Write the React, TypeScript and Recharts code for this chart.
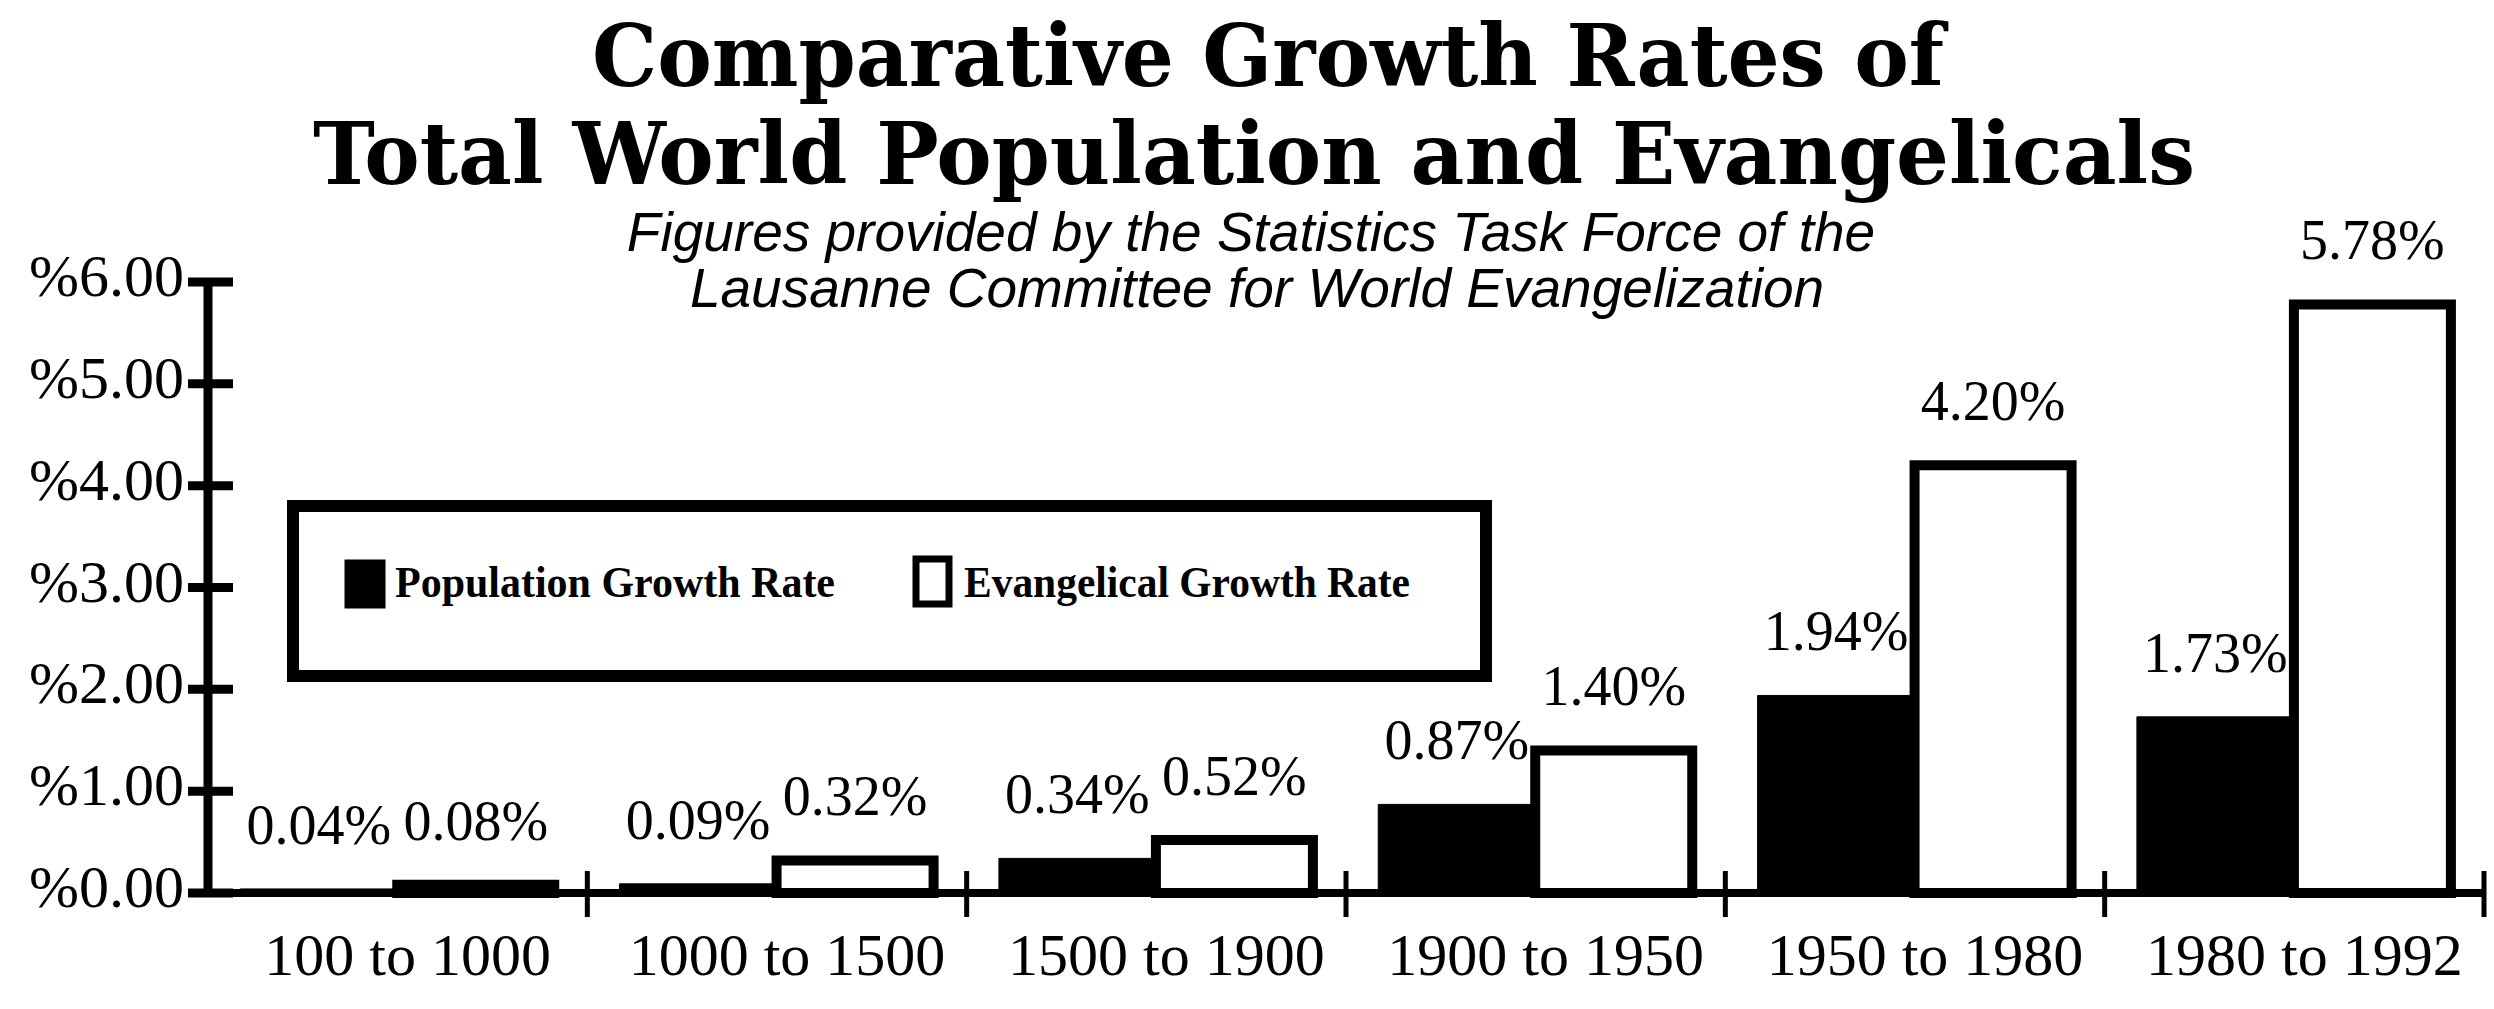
import React from 'react';
import { BarChart, Bar, XAxis, YAxis, LabelList, Legend } from 'recharts';

// Growth rates (% per year) for each period
const periods = ['100 to 1000', '1000 to 1500', '1500 to 1900', '1900 to 1950', '1950 to 1980', '1980 to 1992'];
const populationGrowth = [0.04, 0.09, 0.34, 0.87, 1.94, 1.73];
const evangelicalGrowth = [0.08, 0.32, 0.52, 1.4, 4.2, 5.78];
const yTicks = [0, 1, 2, 3, 4, 5, 6];
const seriesNames = ['Population Growth Rate', 'Evangelical Growth Rate'];

const titleLines = ['Comparative Growth Rates of', 'Total World Population and Evangelicals'];
const subtitleLines = [
  'Figures provided by the Statistics Task Force of the',
  'Lausanne Committee for World Evangelization',
];

const data = periods.map((period, i) => ({
  period,
  population: populationGrowth[i],
  evangelical: evangelicalGrowth[i],
}));

const W = 2494;
const H = 1009;
const MARGIN = { top: 282, right: 10, bottom: 0, left: 0 };
const Y_AXIS_W = 208;
const X_AXIS_H = 116;
const PLOT_W = W - MARGIN.left - MARGIN.right - Y_AXIS_W;
const BAND = PLOT_W / periods.length;

const SERIF = "'Liberation Serif', 'Times New Roman', Times, serif";
const TITLE_FONT = "'DejaVu Serif Condensed', 'DejaVu Serif', serif";
const SANS = "'Liberation Sans', Arial, Helvetica, sans-serif";

const YTick = (props: any) => {
  const { x, y, payload } = props;
  return (
    <g>
      <line x1={x - 20} x2={x + 25} y1={y} y2={y} stroke="#000" strokeWidth={9} />
      <text x={x - 24} y={y + 14} textAnchor="end" fontFamily={SERIF} fontSize={60} fill="#000">
        {`%${Number(payload.value).toFixed(2)}`}
      </text>
    </g>
  );
};

const XTick = (props: any) => {
  const { x, y, payload } = props;
  const edge = x + BAND / 2;
  return (
    <g>
      <line x1={edge} x2={edge} y1={y - 22} y2={y + 24} stroke="#000" strokeWidth={5} />
      <text x={x + 10} y={y + 82} textAnchor="middle" fontFamily={SERIF} fontSize={60} fill="#000">
        {payload.value}
      </text>
    </g>
  );
};

const ValueLabel = (props: any) => {
  const { x, y, width, value } = props;
  return (
    <text x={x + width / 2} y={y - 45} textAnchor="middle" fontFamily={SERIF} fontSize={56} fill="#000">
      {`${Number(value).toFixed(2)}%`}
    </text>
  );
};

// Boxed legend with a filled and an outlined swatch, in series order
const LegendBox = (props: any) => {
  const items: any[] = [...(props.payload ?? [])].sort(
    (a, b) => seriesNames.indexOf(a.value) - seriesNames.indexOf(b.value)
  );
  const slots = [
    { sx: 58, sy: 60, sw: 40, sh: 48, tx: 108, tw: 440 },
    { sx: 629, sy: 59, sw: 33, sh: 45, tx: 677, tw: 446 },
  ];
  return (
    <svg width={1205} height={182} style={{ display: 'block' }}>
      <rect x={6} y={6} width={1193} height={170} fill="#fff" stroke="#000" strokeWidth={12} />
      {items.map((item, i) => {
        const s = slots[i] ?? slots[0];
        const fill = item.payload?.fill ?? item.color;
        const outlined = fill === '#fff';
        return (
          <g key={item.value}>
            <rect
              x={s.sx}
              y={s.sy}
              width={s.sw}
              height={s.sh}
              fill={fill}
              stroke="#000"
              strokeWidth={outlined ? 7 : 1}
            />
            <text
              x={s.tx}
              y={97}
              fontFamily={SERIF}
              fontWeight="bold"
              fontSize={44}
              fill="#000"
              textLength={s.tw}
              lengthAdjust="spacingAndGlyphs"
            >
              {item.value}
            </text>
          </g>
        );
      })}
    </svg>
  );
};

export default function App() {
  return (
    <div style={{ position: 'absolute', left: 0, top: 0, width: W, height: H, background: '#fff' }}>
      <svg width={W} height={H} style={{ position: 'absolute', left: 0, top: 0 }}>
        <text
          x={1268}
          y={86}
          textAnchor="middle"
          fontFamily={TITLE_FONT}
          fontWeight="bold"
          fontSize={86}
          fill="#000"
          textLength={1352}
          lengthAdjust="spacingAndGlyphs"
        >
          {titleLines[0]}
        </text>
        <text
          x={1254}
          y={184}
          textAnchor="middle"
          fontFamily={TITLE_FONT}
          fontWeight="bold"
          fontSize={86}
          fill="#000"
          textLength={1882}
          lengthAdjust="spacingAndGlyphs"
        >
          {titleLines[1]}
        </text>
        <text x={1251} y={251} textAnchor="middle" fontFamily={SANS} fontStyle="italic" fontSize={55} fill="#000">
          {subtitleLines[0]}
        </text>
        <text x={1257} y={307} textAnchor="middle" fontFamily={SANS} fontStyle="italic" fontSize={55} fill="#000">
          {subtitleLines[1]}
        </text>
      </svg>
      <div style={{ position: 'absolute', left: 0, top: 0 }}>
        <BarChart width={W} height={H} data={data} margin={MARGIN} barCategoryGap="8.5%" barGap={0}>
          <XAxis
            dataKey="period"
            height={X_AXIS_H}
            axisLine={{ stroke: '#000', strokeWidth: 8 }}
            tickLine={false}
            tickSize={0}
            tickMargin={0}
            tick={<XTick />}
            interval={0}
          />
          <YAxis
            width={Y_AXIS_W}
            domain={[0, 6]}
            ticks={yTicks}
            axisLine={{ stroke: '#000', strokeWidth: 9 }}
            tickLine={false}
            tickSize={0}
            tickMargin={0}
            tick={<YTick />}
            interval={0}
          />
          <Legend
            layout="horizontal"
            verticalAlign="middle"
            align="center"
            wrapperStyle={{ left: 287, top: 500, width: 1205, height: 182 }}
            content={<LegendBox />}
          />
          <Bar dataKey="population" name={seriesNames[0]} fill="#000" stroke="#000" strokeWidth={1} isAnimationActive={false}>
            <LabelList dataKey="population" content={<ValueLabel />} />
          </Bar>
          <Bar dataKey="evangelical" name={seriesNames[1]} fill="#fff" stroke="#000" strokeWidth={10} isAnimationActive={false}>
            <LabelList dataKey="evangelical" content={<ValueLabel />} />
          </Bar>
        </BarChart>
      </div>
    </div>
  );
}
